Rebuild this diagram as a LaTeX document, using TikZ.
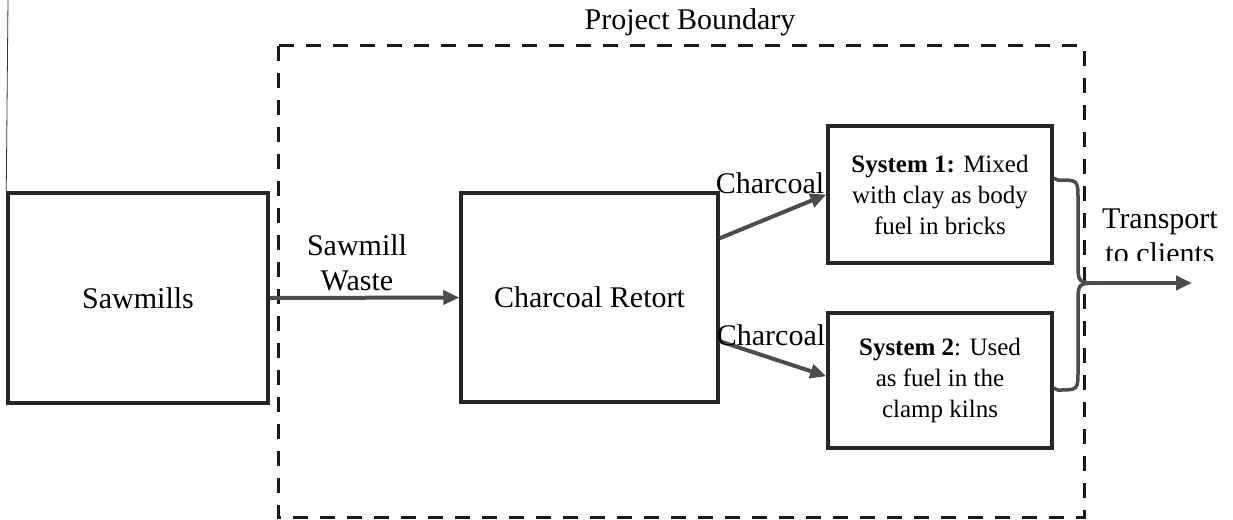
\documentclass[tikz,border=0pt]{standalone}
\usepackage{fontspec}
\setmainfont{Liberation Serif}
\newfontfamily\diagfont{Liberation Serif}
\usetikzlibrary{arrows.meta}
\tikzset{
  block/.style={draw=black!85, line width=3.5pt, fill=white, inner sep=0pt,
    align=center, font=\diagfont\fontsize{30}{36}\selectfont},
  sysbox/.style={block, font=\diagfont\fontsize{25}{31}\selectfont},
  label/.style={inner sep=0pt, align=center, font=\diagfont\fontsize{30}{35}\selectfont},
  flow/.style={draw=black!70, line width=4pt, -{Triangle[length=16pt,width=14pt]}},
  bound/.style={draw=black!90, line width=3pt, dash pattern=on 15pt off 12pt}
}
\begin{document}
\begin{tikzpicture}[x=1pt,y=-1pt]
\useasboundingbox (0,0) rectangle (1233,519);

% project boundary
\draw[bound] (278,46) rectangle (1084,517);
\node[label] (pb) at (690,22) {Project Boundary};

% process boxes
\node[block, minimum width=260pt, minimum height=210pt] (saw) at (138,298) {Sawmills};
\node[block, minimum width=257pt, minimum height=209pt] (ret) at (589.5,297.5) {Charcoal Retort};
\node[sysbox, minimum width=224pt, minimum height=137pt] (s1) at (940,194.5)
  {\textbf{System 1:} Mixed\\with clay as body\\fuel in bricks};
\node[sysbox, minimum width=224pt, minimum height=135pt] (s2) at (940,380.5)
  {\textbf{System 2}: Used\\as fuel in the\\clamp kilns};

% thin page rule above the sawmill box
\coordinate (top) at (8,0);
\draw[line width=0.8pt, black!80] (top) -- (saw.north west);

% flows
\draw[flow] (saw.east) -- (ret.west);
\node[label] (sw) at (357,263) {Sawmill\\Waste};

\coordinate (r1) at ([yshift=-47pt]ret.north east);
\coordinate (r2) at ([yshift=-150pt]ret.north east);
\coordinate (t2) at ([yshift=-65pt]s2.north west);
\draw[flow] (r1) -- (s1.west);
\draw[flow] (r2) -- (t2);
\node[label] (c1) at (770,183) {Charcoal};
\node[label] (c2) at (771,335) {Charcoal};

% brace joining both systems into the delivery flow
\coordinate (b1) at ([yshift=-54pt]s1.north east);
\coordinate (b2) at ([yshift=-77pt]s2.north east);
\coordinate (fk) at (1100,283);
\coordinate (out) at (1192,283);
\draw[draw=black!70, line width=3.5pt]
  (b1) -- (1058,180) .. controls (1078,180) .. (1078,200) -- (1078,263)
  .. controls (1078,283) .. (fk);
\draw[draw=black!70, line width=3.5pt]
  (b2) -- (1058,390) .. controls (1078,390) .. (1078,370) -- (1078,303)
  .. controls (1078,283) .. (fk);
\draw[flow] (fk) -- (out);

\begin{scope}
  \clip (1090,190) rectangle (1233,260);
  \node[label] (tr) at (1160,236) {Transport\\to clients};
\end{scope}
\end{tikzpicture}
\end{document}
